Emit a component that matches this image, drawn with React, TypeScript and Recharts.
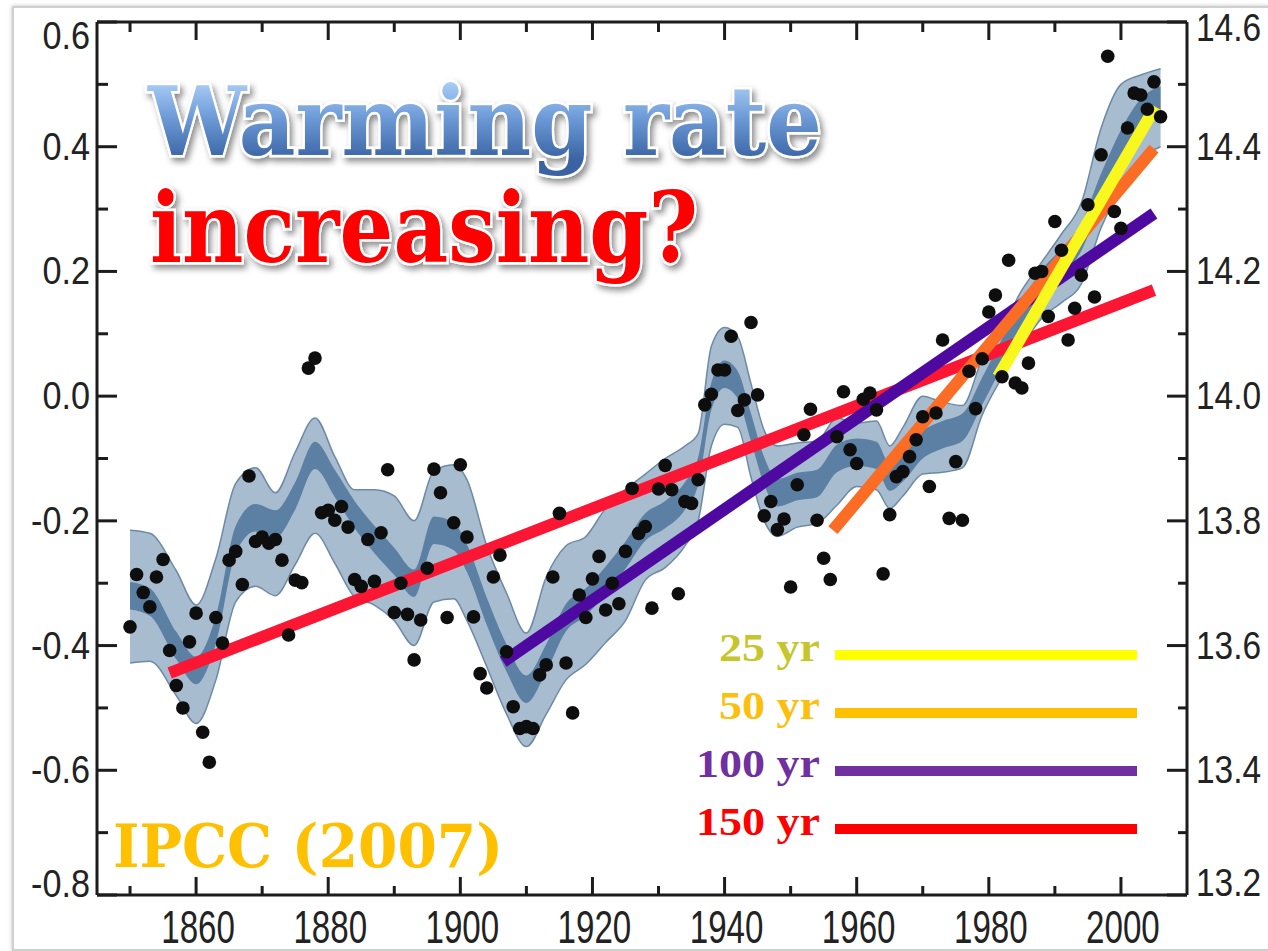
import React from 'react';
import { ComposedChart, XAxis, YAxis, Area, Scatter, Line } from 'recharts';

// annual global mean anomalies (deg C), one value per year from FIRST_YEAR
const FIRST_YEAR = 1850;
const anomalies = [
  -0.37, -0.286, -0.315, -0.338, -0.29, -0.262, -0.408, -0.464, -0.5, -0.394,
  -0.348, -0.539, -0.587, -0.355, -0.396, -0.263, -0.249, -0.302, -0.128, -0.233,
  -0.226, -0.236, -0.23, -0.263, -0.383, -0.295, -0.299, 0.045, 0.061, -0.187,
  -0.183, -0.199, -0.177, -0.21, -0.294, -0.305, -0.23, -0.297, -0.219, -0.118,
  -0.347, -0.3, -0.35, -0.423, -0.359, -0.276, -0.117, -0.155, -0.355, -0.203,
  -0.11, -0.226, -0.354, -0.445, -0.468, -0.29, -0.255, -0.41, -0.498, -0.533,
  -0.53, -0.533, -0.447, -0.431, -0.29, -0.188, -0.428, -0.508, -0.319, -0.355,
  -0.293, -0.257, -0.343, -0.3, -0.333, -0.249, -0.148, -0.22, -0.209, -0.34,
  -0.149, -0.111, -0.15, -0.317, -0.169, -0.172, -0.134, -0.014, 0.003, 0.042,
  0.042, 0.096, -0.023, -0.006, 0.118, 0.002, -0.192, -0.169, -0.214, -0.197,
  -0.306, -0.142, -0.062, -0.021, -0.199, -0.26, -0.294, -0.065, 0.007, -0.086,
  -0.108, -0.005, 0.005, -0.022, -0.285, -0.19, -0.129, -0.121, -0.097, -0.07,
  -0.033, -0.145, -0.027, 0.09, -0.196, -0.105, -0.199, 0.04, -0.02, 0.06,
  0.135, 0.162, 0.031, 0.218, 0.021, 0.013, 0.053, 0.197, 0.2, 0.128,
  0.28, 0.234, 0.09, 0.141, 0.194, 0.307, 0.159, 0.387, 0.545, 0.296,
  0.269, 0.43, 0.486, 0.483, 0.46, 0.504, 0.448,
];

// smoothed curve: dark inner band and light outer uncertainty band
const bandYears = [
  1850, 1853, 1857, 1860, 1863, 1866, 1869, 1872, 1875, 1878, 1881, 1884, 1887, 1890,
  1893, 1896, 1899, 1901, 1904, 1907, 1910, 1913, 1916, 1919, 1922, 1925, 1928, 1931,
  1934, 1936, 1938, 1940, 1942, 1944, 1946, 1948, 1951, 1954, 1957, 1960, 1963, 1965,
  1967, 1970, 1973, 1976, 1979, 1982, 1985, 1988, 1991, 1994, 1997, 2000, 2003, 2006,
];
const innerLow = [
  -0.342, -0.352, -0.422, -0.462, -0.397, -0.252, -0.217, -0.227, -0.182, -0.117, -0.162, -0.212, -0.252, -0.287,
  -0.322, -0.237, -0.247, -0.282, -0.367, -0.442, -0.492, -0.442, -0.377, -0.352, -0.317, -0.277, -0.232, -0.212,
  -0.182, -0.142, -0.022, 0.013, -0.004, -0.072, -0.142, -0.177, -0.167, -0.162, -0.122, -0.112, -0.117, -0.152,
  -0.137, -0.1, -0.084, -0.072, -0.014, 0.048, 0.108, 0.158, 0.193, 0.233, 0.313, 0.383, 0.433, 0.453,
];
const innerHigh = [
  -0.298, -0.308, -0.378, -0.418, -0.353, -0.208, -0.173, -0.183, -0.138, -0.073, -0.118, -0.168, -0.208, -0.243,
  -0.278, -0.193, -0.203, -0.238, -0.323, -0.398, -0.448, -0.398, -0.333, -0.308, -0.273, -0.233, -0.188, -0.168,
  -0.138, -0.098, 0.022, 0.057, 0.04, -0.028, -0.098, -0.133, -0.123, -0.118, -0.078, -0.068, -0.073, -0.108,
  -0.093, -0.056, -0.04, -0.028, 0.03, 0.092, 0.152, 0.202, 0.237, 0.277, 0.357, 0.427, 0.477, 0.497,
];
const outerLow = [
  -0.428, -0.425, -0.48, -0.525, -0.455, -0.33, -0.305, -0.32, -0.27, -0.22, -0.268, -0.322, -0.335, -0.36,
  -0.4, -0.33, -0.325, -0.36, -0.434, -0.51, -0.562, -0.51, -0.455, -0.43, -0.395, -0.36, -0.295, -0.275,
  -0.24, -0.2, -0.08, -0.045, -0.05, -0.13, -0.2, -0.225, -0.21, -0.204, -0.175, -0.145, -0.15, -0.18,
  -0.16, -0.125, -0.122, -0.115, -0.03, 0.03, 0.08, 0.125, 0.15, 0.18, 0.27, 0.335, 0.38, 0.4,
];
const outerHigh = [
  -0.215, -0.22, -0.28, -0.335, -0.26, -0.14, -0.115, -0.155, -0.09, -0.035, -0.097, -0.15, -0.15, -0.16,
  -0.2, -0.12, -0.11, -0.134, -0.24, -0.316, -0.38, -0.29, -0.24, -0.225, -0.18, -0.15, -0.125, -0.1,
  -0.08, -0.06, 0.08, 0.11, 0.095, 0.02, -0.055, -0.08, -0.075, -0.072, -0.035, -0.043, -0.04, -0.08,
  -0.05, 0, -0.01, -0.015, 0.06, 0.11, 0.17, 0.215, 0.26, 0.31, 0.43, 0.5, 0.515, 0.525,
];

// linear trends, drawn longest first
const trendPeriods = ['150 yr', '100 yr', '50 yr', '25 yr'];
const trendStartYear = [1856, 1906.5, 1956.4, 1981.4];
const trendEndYear = [2005, 2005, 2005, 2005.2];
const trendStartValue = [-0.444, -0.426, -0.215, 0.031];
const trendEndValue = [0.17, 0.293, 0.397, 0.464];
const trendColors = ['#fb1633', '#4e0aa0', '#fb6c24', '#f8f81e'];

// legend, top to bottom
const legendLabels = ['25 yr', '50 yr', '100 yr', '150 yr'];
const legendTextColors = ['#c6c62c', '#fdbf0e', '#7030a0', '#ff0000'];
const legendLineColors = ['#ffff00', '#ffc000', '#7030a0', '#ff0000'];
const legendTextWidths = [101, 101, 124, 124];

const xTicks = [1850, 1860, 1870, 1880, 1890, 1900, 1910, 1920, 1930, 1940, 1950, 1960, 1970, 1980, 1990, 2000];
const yTicks = [-0.8, -0.7, -0.6, -0.5, -0.4, -0.3, -0.2, -0.1, 0, 0.1, 0.2, 0.3, 0.4, 0.5, 0.6];
const absTicks = [13.2, 13.3, 13.4, 13.5, 13.6, 13.7, 13.8, 13.9, 14.0, 14.1, 14.2, 14.3, 14.4, 14.5, 14.6];

const AXIS = '#1c1c1c';
const LABEL_FONT = '"Liberation Sans", Arial, sans-serif';

const dots = anomalies.map((v, i) => ({ year: FIRST_YEAR + i, anom: v }));
const bands = bandYears.map((y, i) => ({
  year: y,
  outer: [outerLow[i], outerHigh[i]],
  inner: [innerLow[i], innerHigh[i]],
}));
const trends = trendPeriods.map((name, i) => ({
  name,
  color: trendColors[i],
  data: [
    { year: trendStartYear[i], trend: trendStartValue[i] },
    { year: trendEndYear[i], trend: trendEndValue[i] },
  ],
}));

const isEven = (v: number) => Math.abs(Math.round(v * 10)) % 2 === 0;

const BottomTick = (props: any) => {
  const { x, y, payload } = props;
  const major = payload.value % 20 === 0;
  return (
    <g>
      <line x1={x} y1={y} x2={x} y2={y - (major ? 18 : 9)} stroke={AXIS} strokeWidth={3} />
      {major && (
        <text
          transform={`translate(${x + 2},${y + 48}) scale(0.72,1)`}
          textAnchor="middle"
          fontFamily={LABEL_FONT}
          fontSize={46}
          fill="#222"
        >
          {payload.value}
        </text>
      )}
    </g>
  );
};

const TopTick = (props: any) => {
  const { x, y, payload } = props;
  const major = payload.value % 20 === 0;
  return <line x1={x} y1={y} x2={x} y2={y + (major ? 18 : 10)} stroke={AXIS} strokeWidth={3} />;
};

const LeftTick = (props: any) => {
  const { x, y, payload } = props;
  const major = isEven(payload.value);
  const shift = payload.value >= 0.59 ? 14 : payload.value <= -0.79 ? -11 : 0;
  return (
    <g>
      <line x1={x} y1={y} x2={x + (major ? 20 : 11)} y2={y} stroke={AXIS} strokeWidth={3} />
      {major && (
        <text
          transform={`translate(${x - 7},${y + 13 + shift}) scale(0.9,1)`}
          textAnchor="end"
          fontFamily={LABEL_FONT}
          fontSize={38}
          fill="#222"
        >
          {payload.value.toFixed(1)}
        </text>
      )}
    </g>
  );
};

const RightTick = (props: any) => {
  const { x, y, payload } = props;
  const major = isEven(payload.value);
  const shift = payload.value >= 14.59 ? 6 : payload.value <= 13.21 ? -12 : 0;
  return (
    <g>
      <line x1={x} y1={y} x2={x - (major ? 20 : 9)} y2={y} stroke={AXIS} strokeWidth={3} />
      {major && (
        <text
          transform={`translate(${x + 9},${y + 13 + shift}) scale(0.88,1)`}
          textAnchor="start"
          fontFamily={LABEL_FONT}
          fontSize={38}
          fill="#222"
        >
          {payload.value.toFixed(1)}
        </text>
      )}
    </g>
  );
};

const Overlay = () => (
  <svg
    width={1268}
    height={951}
    style={{ position: 'absolute', left: 0, top: 0, pointerEvents: 'none' }}
  >
    <defs>
      <linearGradient id="titleBlue" gradientUnits="userSpaceOnUse" x1="0" y1="82" x2="0" y2="160">
        <stop offset="0" stopColor="#a9cdf5" />
        <stop offset="0.45" stopColor="#6e9bd8" />
        <stop offset="1" stopColor="#3a63a3" />
      </linearGradient>
      <filter id="softShadow" x="-10%" y="-30%" width="120%" height="160%">
        <feDropShadow dx="3" dy="4" stdDeviation="3" floodColor="#000" floodOpacity="0.45" />
      </filter>
    </defs>
    <g fontFamily='"DejaVu Serif", serif' fontWeight="bold" filter="url(#softShadow)">
      <text
        x={148}
        y={155}
        fontSize={96}
        textLength={674}
        lengthAdjust="spacingAndGlyphs"
        fill="url(#titleBlue)"
        stroke="#fff"
        strokeWidth={5}
        paintOrder="stroke"
      >
        Warming rate
      </text>
      <text
        x={150}
        y={262}
        fontSize={98}
        textLength={548}
        lengthAdjust="spacingAndGlyphs"
        fill="#ff0000"
        stroke="#fff"
        strokeWidth={5}
        paintOrder="stroke"
      >
        increasing?
      </text>
    </g>
    <text
      x={113}
      y={867}
      fontFamily='"DejaVu Serif", serif'
      fontWeight="bold"
      fontSize={60}
      textLength={390}
      lengthAdjust="spacingAndGlyphs"
      fill="#ffc000"
    >
      IPCC (2007)
    </text>
    {legendLabels.map((label, i) => {
      const cy = 655 + i * 58;
      return (
        <g key={label}>
          <text
            x={820 - legendTextWidths[i]}
            y={cy + 6}
            fontFamily='"Liberation Serif", "Times New Roman", serif'
            fontWeight="bold"
            fontSize={41}
            textLength={legendTextWidths[i]}
            lengthAdjust="spacingAndGlyphs"
            fill={legendTextColors[i]}
          >
            {label}
          </text>
          <line x1={835} y1={cy} x2={1137} y2={cy} stroke={legendLineColors[i]} strokeWidth={10} />
        </g>
      );
    })}
  </svg>
);

export default function App() {
  return (
    <div style={{ position: 'absolute', left: 0, top: 0, width: 1268, height: 951, background: '#fff' }}>
      <div
        style={{
          position: 'absolute',
          left: 12,
          top: 6,
          width: 1260,
          height: 941,
          border: '2px solid #cfcfcf',
          boxShadow: '0 0 4px rgba(0,0,0,0.25)',
        }}
      />
      <div style={{ position: 'absolute', left: 0, top: 0 }}>
        <ComposedChart width={1268} height={951} data={bands} margin={{ top: 0, right: 0, bottom: 0, left: 0 }}>
          <XAxis
            dataKey="year"
            type="number"
            domain={[1845, 2010]}
            ticks={xTicks}
            interval={0}
            height={56}
            tickSize={0}
            tickMargin={0}
            tickLine={false}
            axisLine={{ stroke: AXIS, strokeWidth: 3 }}
            tick={<BottomTick />}
            allowDataOverflow
          />
          <XAxis
            xAxisId="top"
            orientation="top"
            dataKey="year"
            type="number"
            domain={[1845, 2010]}
            ticks={xTicks}
            interval={0}
            height={22}
            tickSize={0}
            tickMargin={0}
            tickLine={false}
            axisLine={{ stroke: AXIS, strokeWidth: 3 }}
            tick={<TopTick />}
            allowDataOverflow
          />
          <YAxis
            type="number"
            domain={[-0.8, 0.6]}
            ticks={yTicks}
            interval={0}
            width={97}
            tickSize={0}
            tickMargin={0}
            tickLine={false}
            axisLine={{ stroke: AXIS, strokeWidth: 3 }}
            tick={<LeftTick />}
            allowDataOverflow
          />
          <YAxis
            yAxisId="abs"
            orientation="right"
            type="number"
            domain={[13.2, 14.6]}
            ticks={absTicks}
            interval={0}
            width={81}
            tickSize={0}
            tickMargin={0}
            tickLine={false}
            axisLine={{ stroke: AXIS, strokeWidth: 3 }}
            tick={<RightTick />}
            allowDataOverflow
          />
          <Area
            dataKey="outer"
            type="monotone"
            fill="#a8bcd0"
            fillOpacity={1}
            stroke="#6c89a6"
            strokeWidth={1.5}
            isAnimationActive={false}
          />
          <Area
            dataKey="inner"
            type="monotone"
            fill="#5b80a3"
            fillOpacity={1}
            stroke="none"
            isAnimationActive={false}
          />
          <Scatter
            data={dots}
            dataKey="anom"
            isAnimationActive={false}
            shape={(p: any) => <circle cx={p.cx} cy={p.cy} r={6.8} fill="#0e0e0e" />}
          />
          {trends.map((t) => (
            <Line
              key={t.name}
              data={t.data}
              dataKey="trend"
              type="linear"
              stroke={t.color}
              strokeWidth={12}
              strokeLinecap="butt"
              dot={false}
              activeDot={false}
              isAnimationActive={false}
            />
          ))}
        </ComposedChart>
      </div>
      <Overlay />
    </div>
  );
}
